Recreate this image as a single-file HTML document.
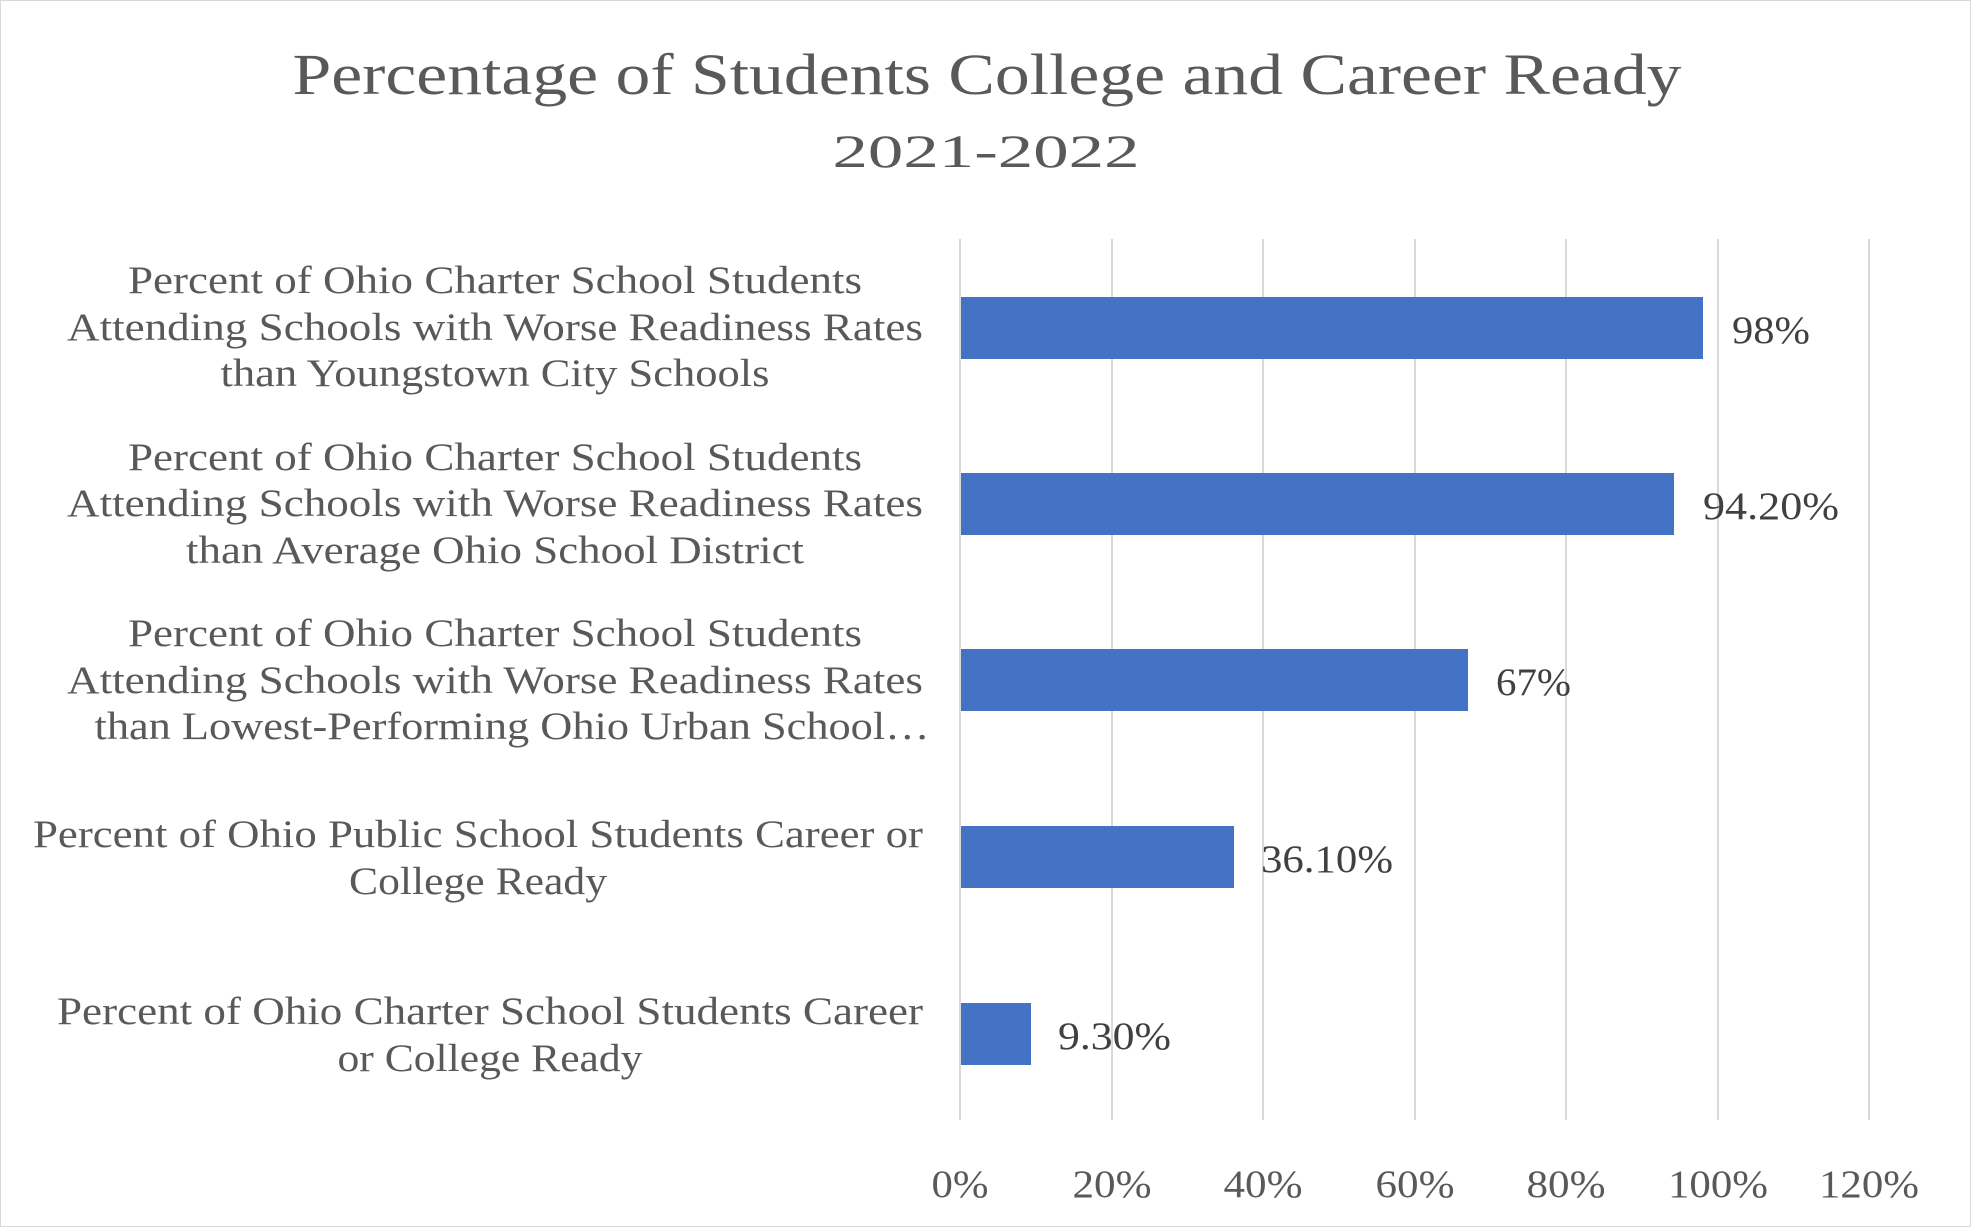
<!DOCTYPE html>
<html><head><meta charset="utf-8"><style>html,body{margin:0;padding:0;background:#fff}svg{display:block}</style></head>
<body>
<svg width="1971" height="1227" viewBox="0 0 1971 1227" xmlns="http://www.w3.org/2000/svg" font-family="Liberation Serif, serif">
<rect x="0.5" y="0.5" width="1970" height="1226" fill="#fff" stroke="#d9d9d9" stroke-width="1"/>
<text x="987" y="94" font-size="58" fill="#595959" text-anchor="middle" textLength="1389" lengthAdjust="spacingAndGlyphs">Percentage of Students College and Career Ready</text>
<text x="986" y="167" font-size="47" fill="#595959" text-anchor="middle" textLength="307" lengthAdjust="spacingAndGlyphs">2021-2022</text>
<g stroke="#d9d9d9" stroke-width="2">
<line x1="960" y1="239" x2="960" y2="1120"/>
<line x1="1112" y1="239" x2="1112" y2="1120"/>
<line x1="1263" y1="239" x2="1263" y2="1120"/>
<line x1="1415" y1="239" x2="1415" y2="1120"/>
<line x1="1566" y1="239" x2="1566" y2="1120"/>
<line x1="1718" y1="239" x2="1718" y2="1120"/>
<line x1="1869" y1="239" x2="1869" y2="1120"/>
</g>
<g fill="#4472C4">
<rect x="961" y="297" width="742" height="62"/>
<rect x="961" y="473" width="713" height="62"/>
<rect x="961" y="649" width="507" height="62"/>
<rect x="961" y="826" width="273" height="62"/>
<rect x="961" y="1003" width="70" height="62"/>
</g>
<g font-size="39" fill="#404040">
<text x="1732" y="343" textLength="78" lengthAdjust="spacingAndGlyphs">98%</text>
<text x="1703" y="519" textLength="136" lengthAdjust="spacingAndGlyphs">94.20%</text>
<text x="1496" y="695" textLength="75" lengthAdjust="spacingAndGlyphs">67%</text>
<text x="1261" y="872" textLength="132" lengthAdjust="spacingAndGlyphs">36.10%</text>
<text x="1058" y="1049" textLength="113" lengthAdjust="spacingAndGlyphs">9.30%</text>
</g>
<g font-size="39" fill="#595959" text-anchor="middle">
<text x="495" y="293" textLength="734" lengthAdjust="spacingAndGlyphs">Percent of Ohio Charter School Students</text>
<text x="495" y="340" textLength="856" lengthAdjust="spacingAndGlyphs">Attending Schools with Worse Readiness Rates</text>
<text x="495" y="386" textLength="549" lengthAdjust="spacingAndGlyphs">than Youngstown City Schools</text>
<text x="495" y="470" textLength="734" lengthAdjust="spacingAndGlyphs">Percent of Ohio Charter School Students</text>
<text x="495" y="516" textLength="856" lengthAdjust="spacingAndGlyphs">Attending Schools with Worse Readiness Rates</text>
<text x="495" y="563" textLength="618" lengthAdjust="spacingAndGlyphs">than Average Ohio School District</text>
<text x="495" y="646" textLength="734" lengthAdjust="spacingAndGlyphs">Percent of Ohio Charter School Students</text>
<text x="495" y="693" textLength="856" lengthAdjust="spacingAndGlyphs">Attending Schools with Worse Readiness Rates</text>
<text x="512" y="739" textLength="835" lengthAdjust="spacingAndGlyphs">than Lowest-Performing Ohio Urban School…</text>
<text x="478" y="847" textLength="890" lengthAdjust="spacingAndGlyphs">Percent of Ohio Public School Students Career or</text>
<text x="478" y="894" textLength="258" lengthAdjust="spacingAndGlyphs">College Ready</text>
<text x="490" y="1024" textLength="866" lengthAdjust="spacingAndGlyphs">Percent of Ohio Charter School Students Career</text>
<text x="490" y="1071" textLength="305" lengthAdjust="spacingAndGlyphs">or College Ready</text>
</g>
<g font-size="39" fill="#595959" text-anchor="middle">
<text x="960" y="1197" textLength="57" lengthAdjust="spacingAndGlyphs">0%</text>
<text x="1112" y="1197" textLength="79" lengthAdjust="spacingAndGlyphs">20%</text>
<text x="1263" y="1197" textLength="79" lengthAdjust="spacingAndGlyphs">40%</text>
<text x="1415" y="1197" textLength="79" lengthAdjust="spacingAndGlyphs">60%</text>
<text x="1566" y="1197" textLength="79" lengthAdjust="spacingAndGlyphs">80%</text>
<text x="1718" y="1197" textLength="100" lengthAdjust="spacingAndGlyphs">100%</text>
<text x="1869" y="1197" textLength="100" lengthAdjust="spacingAndGlyphs">120%</text>
</g>
</svg>
</body></html>
